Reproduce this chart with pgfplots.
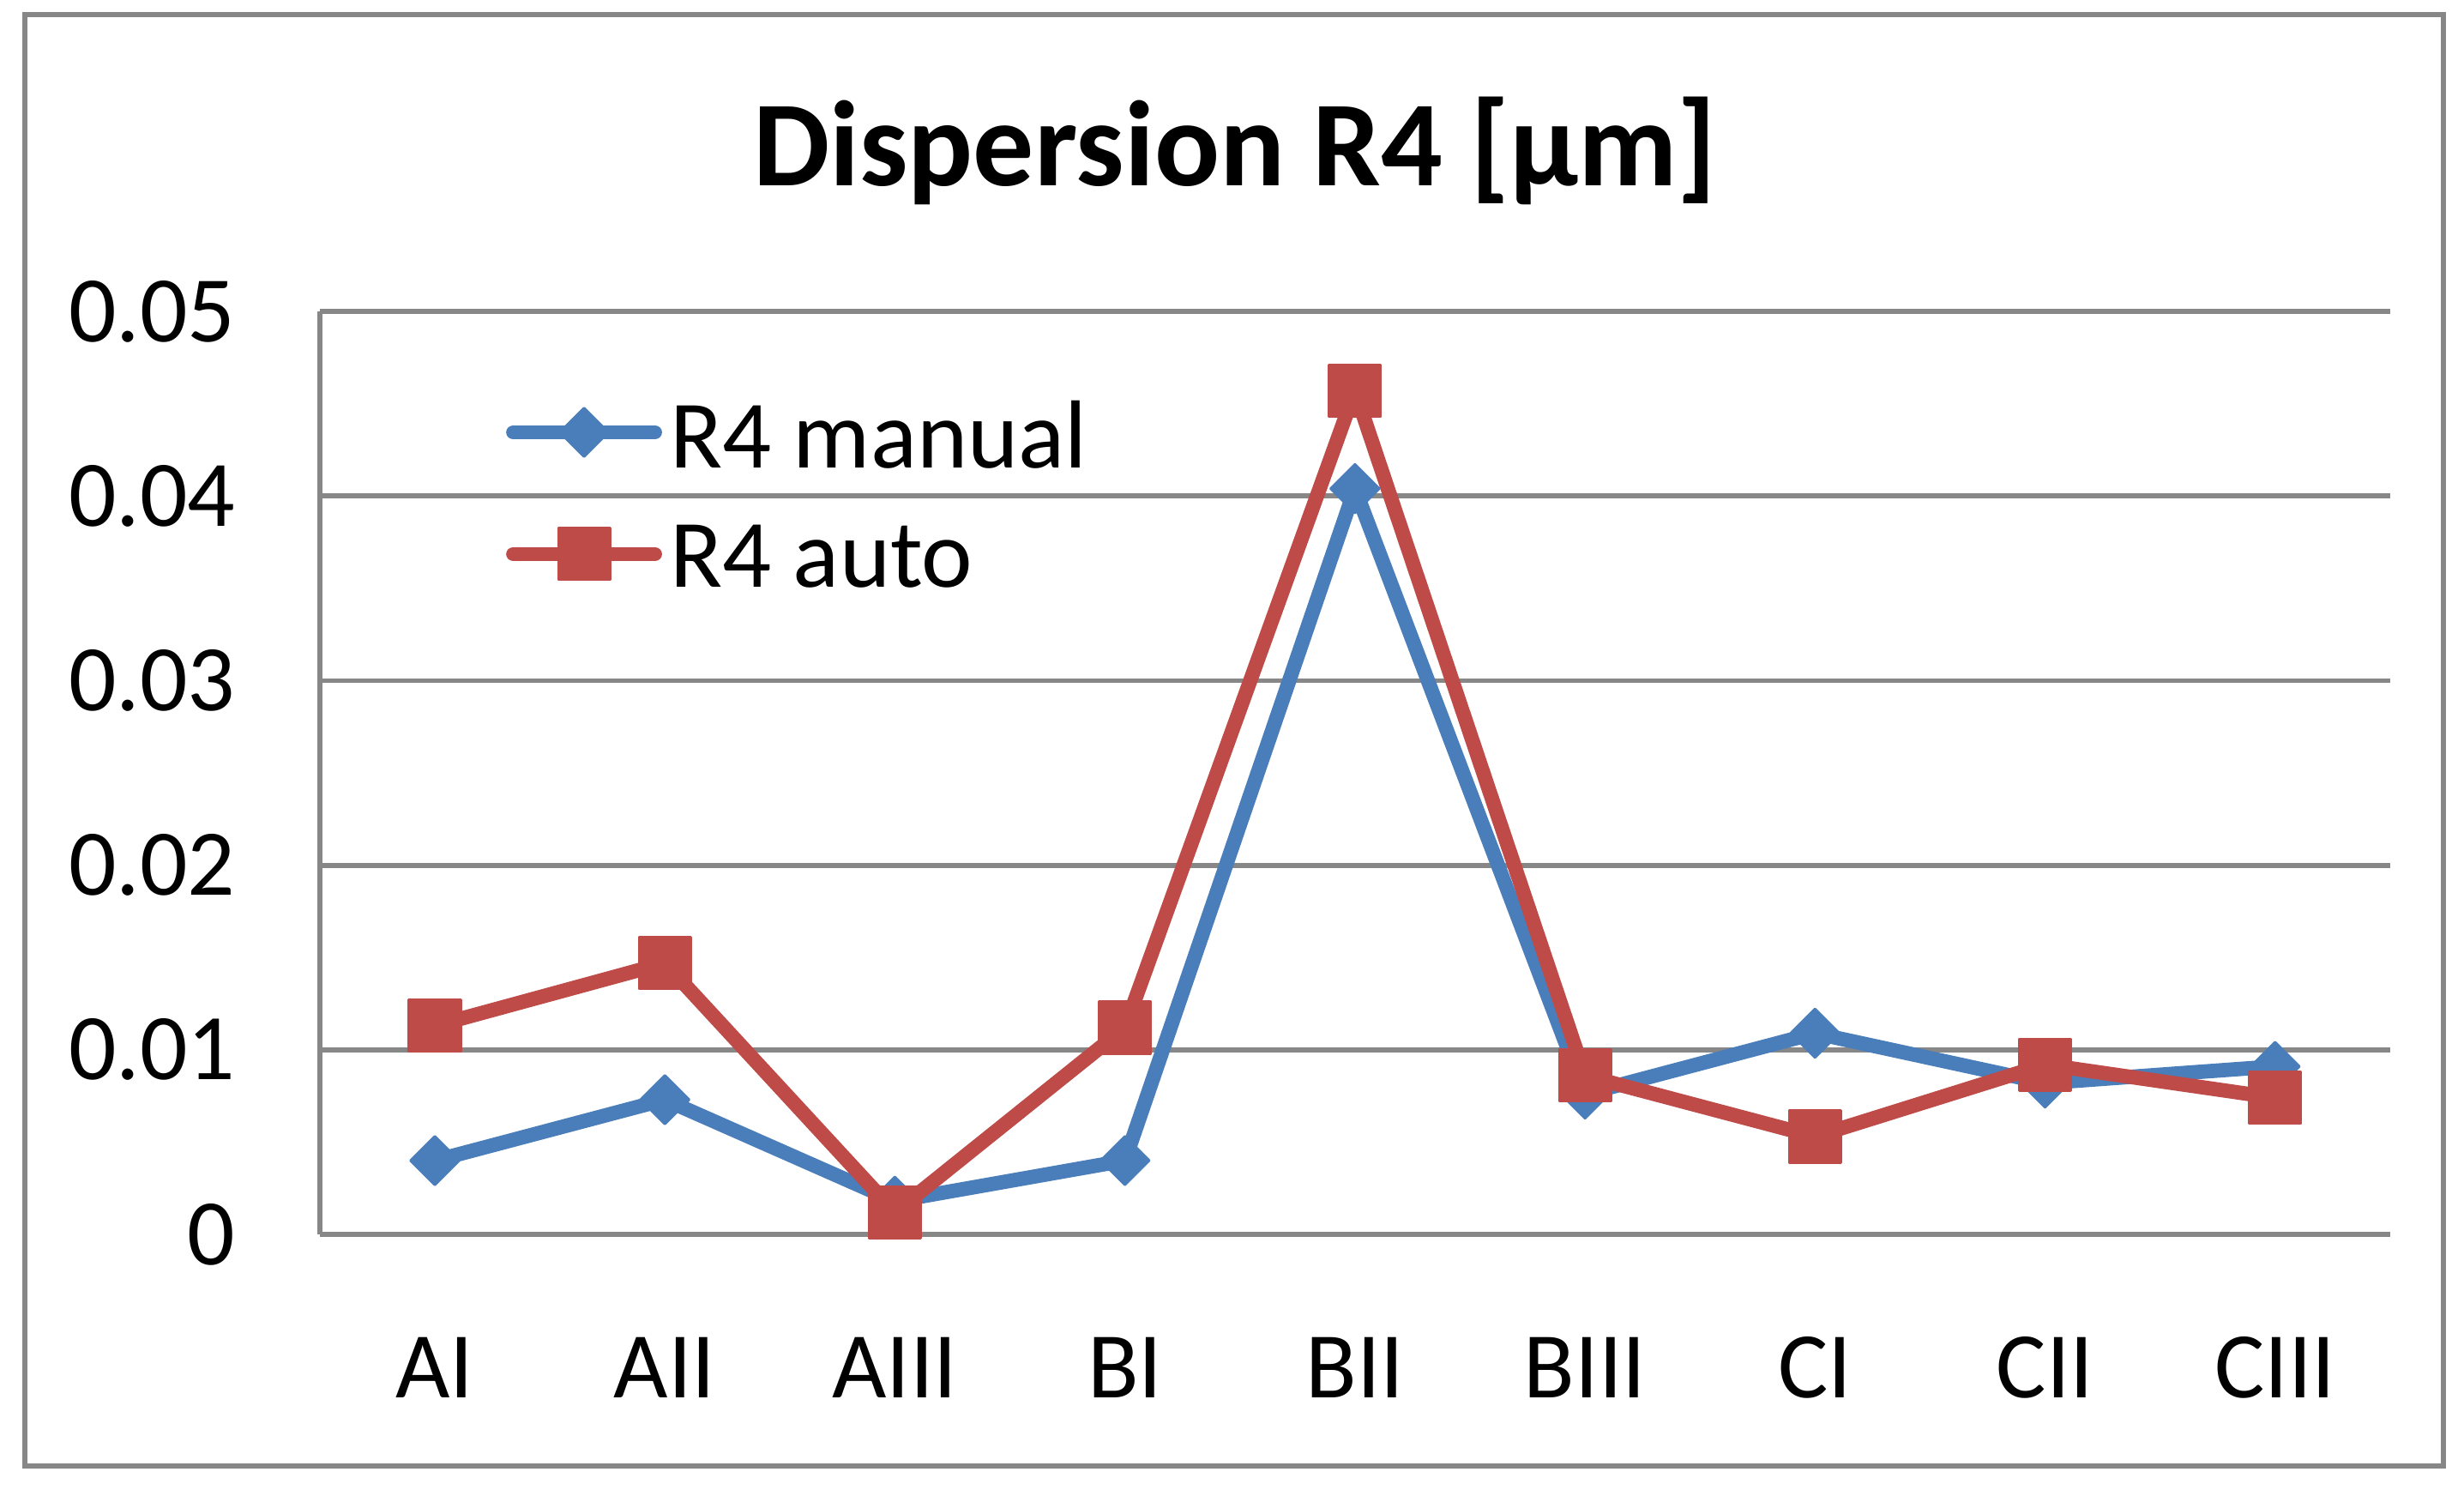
\documentclass[border=0pt]{standalone}
\usepackage{pgfplots}
\pgfplotsset{compat=1.18}
\usepackage{fontspec}
\setmainfont{Carlito}
\usetikzlibrary{plotmarks}
\definecolor{manblue}{HTML}{4A7EBB}
\definecolor{autored}{HTML}{BE4B48}
\definecolor{gridgray}{HTML}{878787}
\begin{document}
\begin{tikzpicture}
\path[use as bounding box] (0,0) rectangle (15.67,9.474);
\draw[gridgray, line width=1pt] (0.158,0.154) rectangle (15.54,9.381);
\begin{axis}[
  at={(2.034cm,1.625cm)}, anchor=south west,
  scale only axis, width=13.166cm, height=5.869cm,
  xmin=-0.5, xmax=8.5, ymin=0, ymax=0.05,
  xtick={0,1,2,3,4,5,6,7,8},
  xticklabels={AI,AII,AIII,BI,BII,BIII,CI,CII,CIII},
  ytick={0,0.01,0.02,0.03,0.04,0.05},
  yticklabels={0,0.01,0.02,0.03,0.04,0.05},
  scaled y ticks=false,
  axis x line*=bottom, axis y line*=left,
  axis line style={gridgray, line width=0.9pt, -},
  major tick length=0pt,
  ymajorgrids, grid style={gridgray, line width=0.9pt},
  tick label style={font=\fontsize{17}{20}\selectfont, text=black},
  xticklabel style={anchor=base, inner sep=0pt, yshift=-1.04cm},
  yticklabel style={anchor=east, inner sep=0pt, xshift=-0.53cm},
  title={Dispersion R4 [µm]},
  title style={font=\fontsize{22}{26}\selectfont\bfseries, at={(0.442,1)}, anchor=base, yshift=0.59cm},
  clip=false,
  legend cell align=left,
  legend style={at={(0.090,0.903)}, anchor=north west, draw=none, fill=none,
    font=\fontsize{17.5}{21}\selectfont, inner sep=0pt, outer sep=0pt,
    row sep=0.31cm, column sep=0.05cm, nodes={inner sep=0pt}},
  legend image code/.code={
    \draw[mark repeat=2,mark phase=2,line cap=round,#1]
      plot coordinates {(0cm,0.04cm) (0.45cm,0.04cm) (0.9cm,0.04cm)};
  },
]
\addplot[manblue, line width=2.6pt, line join=round, mark=square*, mark size=0.11cm,
  mark options={solid, rotate=45, fill=manblue, line width=0.4pt}]
  coordinates {(0,0.0040) (1,0.0073) (2,0.0018) (3,0.0040) (4,0.0404)
               (5,0.0076) (6,0.0109) (7,0.0082) (8,0.0091)};
\addlegendentry{R4 manual}
\addplot[autored, line width=2.6pt, line join=round, mark=square*, mark size=0.165cm,
  mark options={solid, fill=autored, line width=0.4pt}]
  coordinates {(0,0.0113) (1,0.0147) (2,0.0012) (3,0.0112) (4,0.0457)
               (5,0.0086) (6,0.0053) (7,0.0092) (8,0.0074)};
\addlegendentry{R4 auto}
\end{axis}
\end{tikzpicture}
\end{document}
